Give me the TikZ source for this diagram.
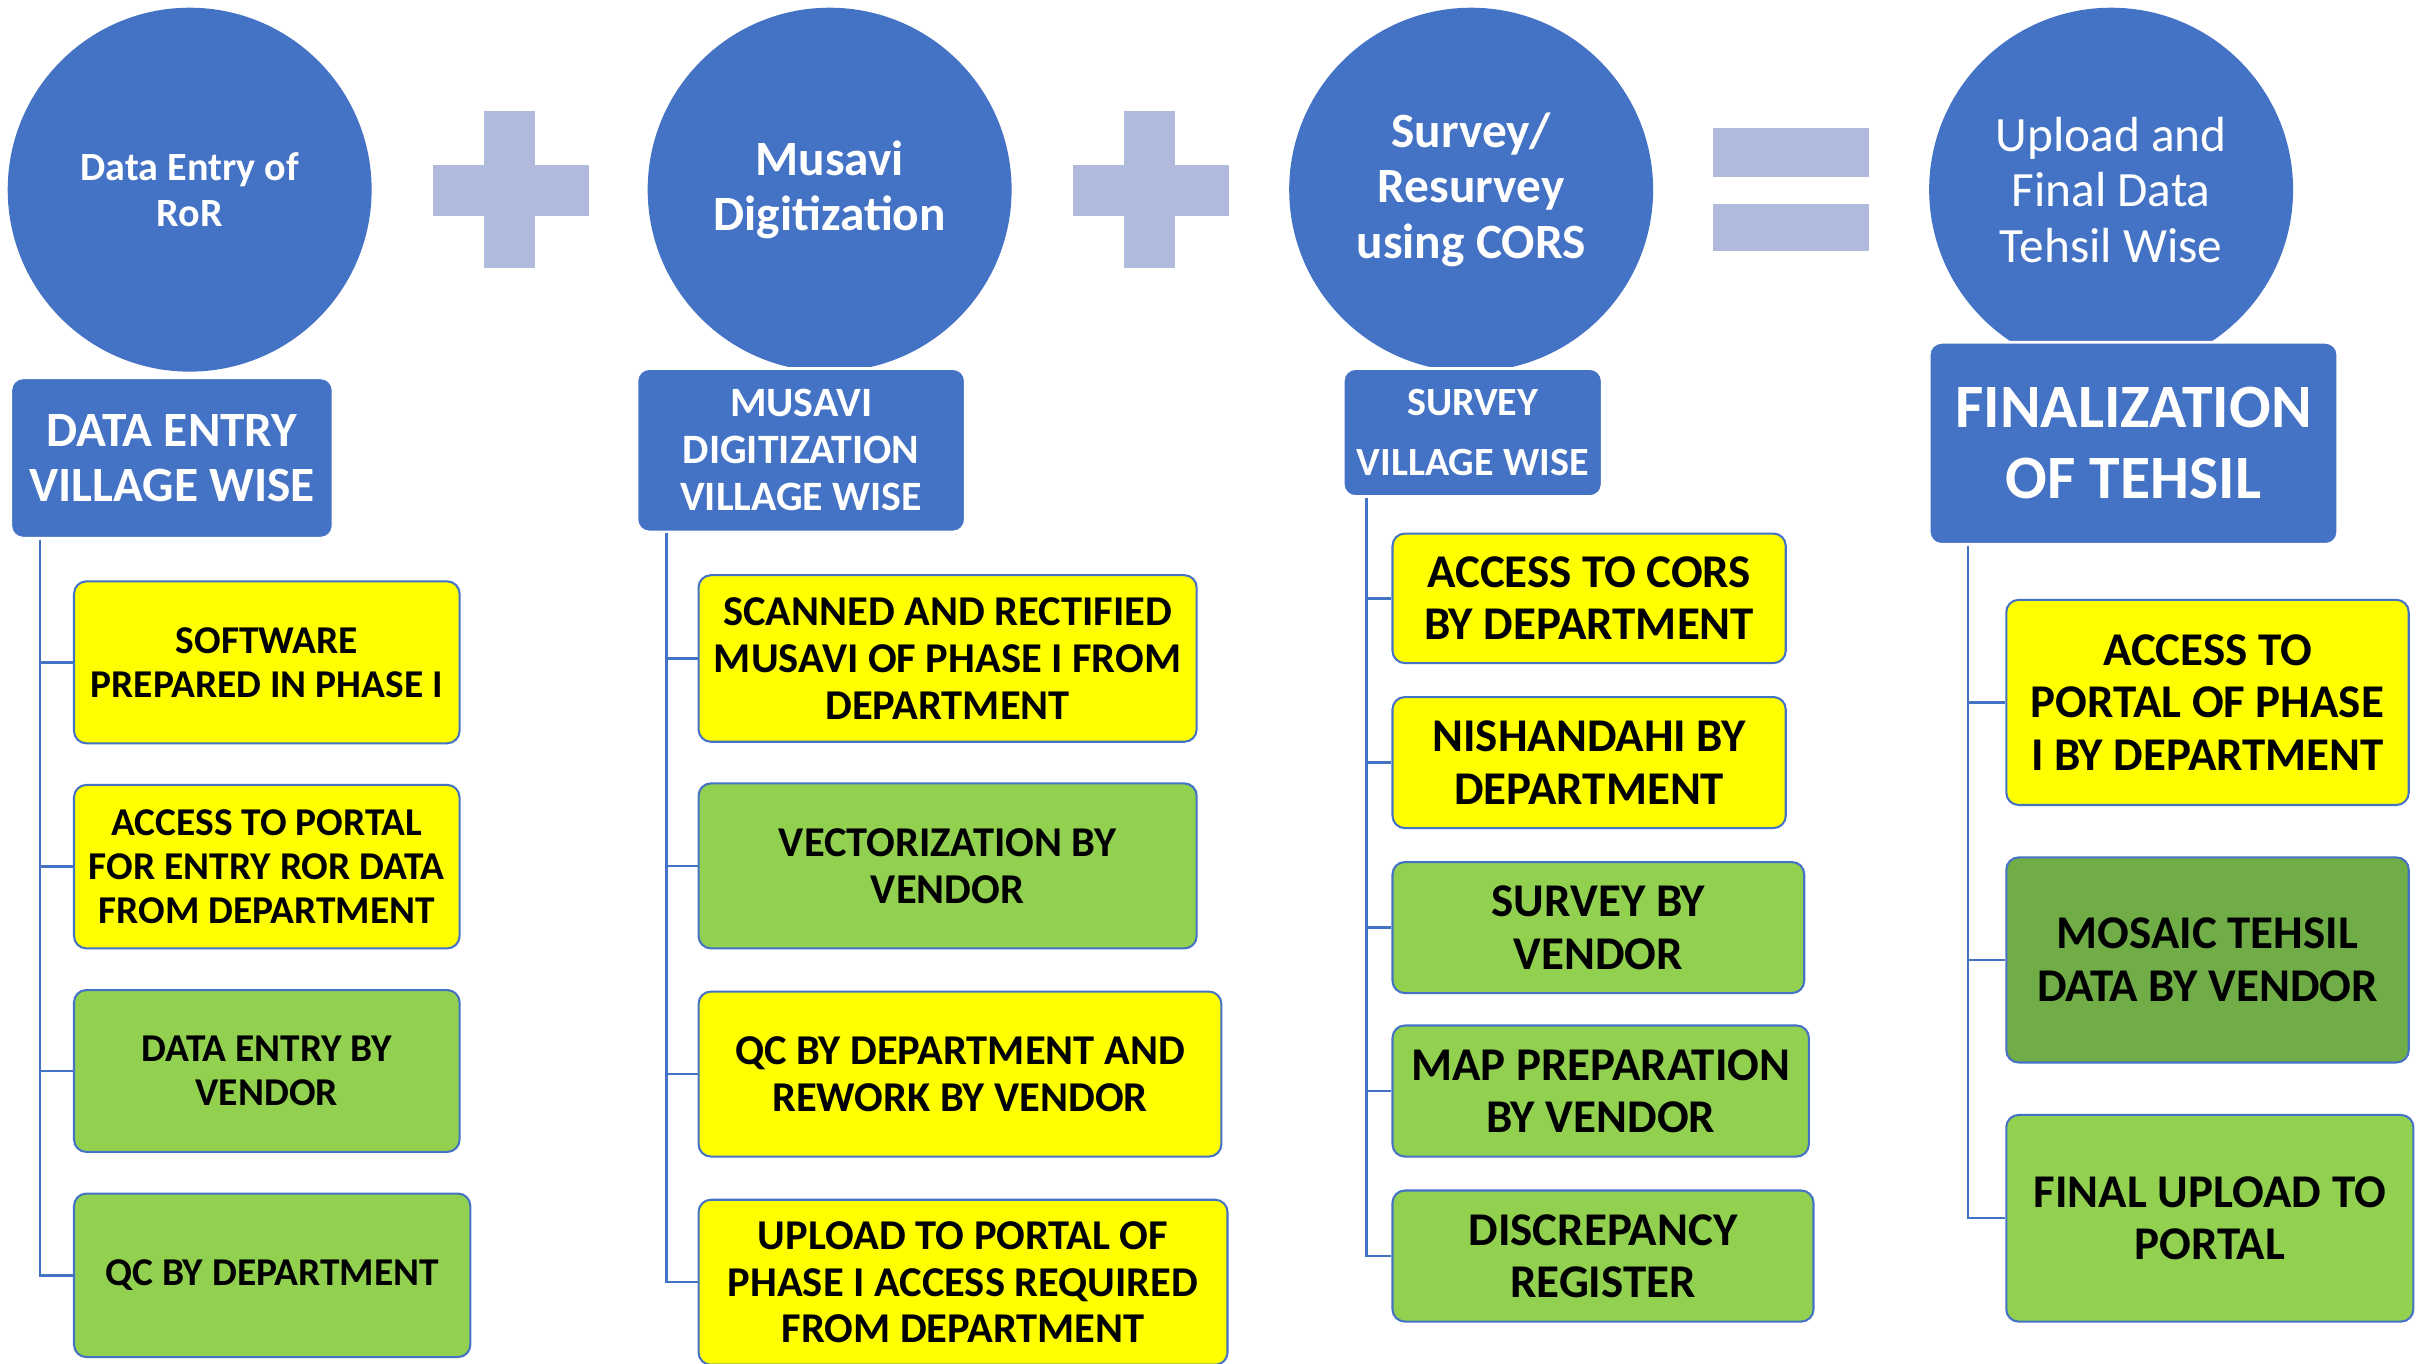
\documentclass[tikz,border=0pt]{standalone}
\usepackage{fontspec}
\setmainfont{Carlito}
\definecolor{mblue}{HTML}{4472C4}
\definecolor{myellow}{HTML}{FFFF00}
\definecolor{mgreen}{HTML}{92D050}
\definecolor{mdgreen}{HTML}{70AD47}
\definecolor{mlight}{HTML}{AFBADC}
\tikzset{
  circ/.style={circle, fill=mblue, draw=none, minimum size=106.2pt, inner sep=0pt, text=white, align=center},
  hbox/.style={fill=mblue, draw=white, line width=0.8pt, rounded corners=3.6pt, inner sep=0pt, text=white, align=center, font=\bfseries},
  ybox/.style={fill=myellow, draw=mblue, line width=0.6pt, rounded corners=3.6pt, inner sep=0pt, align=center, font=\bfseries},
  gbox/.style={fill=mgreen, draw=mblue, line width=0.6pt, rounded corners=3.6pt, inner sep=0pt, align=center, font=\bfseries},
  dgbox/.style={fill=mdgreen, draw=mblue, line width=0.6pt, rounded corners=3.6pt, inner sep=0pt, align=center, font=\bfseries},
  conn/.style={draw=mblue, line width=0.7pt},
  sym/.style={fill=mlight, draw=none},
  fa/.style={font=\bfseries\fontsize{11.5pt}{12.8pt}\selectfont},
  fb/.style={font=\bfseries\fontsize{12.4pt}{13.7pt}\selectfont},
  fc/.style={font=\bfseries\fontsize{13.7pt}{15.3pt}\selectfont},
}
% \bx{style}{name}{x1}{y1}{x2}{y2}{text}
\newcommand{\bx}[7]{\node[#1, minimum width={(#5-#3)*0.45pt}, minimum height={(#6-#4)*0.45pt}] (#2) at ({(#3+#5)/2},{(#4+#6)/2}) {#7};}
\begin{document}
\begin{tikzpicture}[x=0.45pt, y=-0.45pt]
\useasboundingbox (0,0) rectangle (1568,884);
\fill[white] (0,0) rectangle (1568,884);
% circles
\node[circ, font=\bfseries\fontsize{11.7pt}{13.5pt}\selectfont] (o1) at (123,123) {Data Entry of\\RoR};
\node[circ, font=\bfseries\fontsize{14.4pt}{16.2pt}\selectfont] (o2) at (538,123) {Musavi\\Digitization};
\node[circ, font=\bfseries\fontsize{14.4pt}{16.2pt}\selectfont] (o3) at (954,123) {Survey/\\Resurvey\\using CORS};
\node[circ, font=\fontsize{14.4pt}{16.2pt}\selectfont] (o4) at (1369,123) {Upload and\\Final Data\\Tehsil Wise};
% plus and equals signs
\fill[sym] (281,107) rectangle (382,140);
\fill[sym] (314,72) rectangle (347,174);
\fill[sym] (696,107) rectangle (797,140);
\fill[sym] (729,72) rectangle (762,174);
\fill[sym] (1111,83) rectangle (1212,115);
\fill[sym] (1111,132) rectangle (1212,163);
% header boxes
\bx{hbox, font=\bfseries\fontsize{14.4pt}{16.2pt}\selectfont}{h1}{7}{245}{216}{349}{DATA ENTRY\\VILLAGE WISE}
\bx{hbox, font=\bfseries\fontsize{12.2pt}{13.7pt}\selectfont}{h2}{413}{239}{626}{345}{MUSAVI\\DIGITIZATION\\VILLAGE WISE}
\bx{hbox, font=\bfseries\fontsize{11.7pt}{17.6pt}\selectfont}{h3}{871}{239}{1039}{322}{SURVEY\\VILLAGE WISE}
\bx{hbox, font=\bfseries\fontsize{18pt}{20.7pt}\selectfont}{h4}{1251}{222}{1516}{353}{FINALIZATION\\OF TEHSIL}
% column 1
\bx{ybox, fa}{a1}{48}{377}{298}{482}{SOFTWARE\\PREPARED IN PHASE I}
\bx{ybox, fa}{a2}{48}{509}{298}{615}{ACCESS TO PORTAL\\FOR ENTRY ROR DATA\\FROM DEPARTMENT}
\bx{gbox, fa}{a3}{48}{642}{298}{747}{DATA ENTRY BY\\VENDOR}
\bx{gbox, fa}{a4}{48}{774}{305}{880}{QC BY DEPARTMENT}
% column 2
\bx{ybox, fb}{b1}{453}{373}{776}{481}{SCANNED AND RECTIFIED\\MUSAVI OF PHASE I FROM\\DEPARTMENT}
\bx{gbox, fb}{b2}{453}{508}{776}{615}{VECTORIZATION BY\\VENDOR}
\bx{ybox, fb}{b3}{453}{643}{792}{750}{QC BY DEPARTMENT AND\\REWORK BY VENDOR}
\bx{ybox, fb}{b4}{453}{778}{796}{885}{UPLOAD TO PORTAL OF\\PHASE I ACCESS REQUIRED\\FROM DEPARTMENT}
% column 3
\bx{ybox, fc}{c1}{903}{346}{1158}{430}{ACCESS TO CORS\\BY DEPARTMENT}
\bx{ybox, fc}{c2}{903}{452}{1158}{537}{NISHANDAHI BY\\DEPARTMENT}
\bx{gbox, fc}{c3}{903}{559}{1170}{644}{SURVEY BY\\VENDOR}
\bx{gbox, fc}{c4}{903}{665}{1173}{750}{MAP PREPARATION\\BY VENDOR}
\bx{gbox, fc}{c5}{903}{772}{1176}{857}{DISCREPANCY\\REGISTER}
% column 4
\bx{ybox, fc}{d1}{1301}{389}{1562}{522}{ACCESS TO\\PORTAL OF PHASE\\I BY DEPARTMENT}
\bx{dgbox, fc}{d2}{1301}{556}{1562}{689}{MOSAIC TEHSIL\\DATA BY VENDOR}
\bx{gbox, fc}{d3}{1301}{723}{1565}{857}{FINAL UPLOAD TO\\PORTAL}
% connectors
\foreach \c in {a1,a2,a3,a4} \draw[conn] (h1.south west) ++(20,0) |- (\c.west);
\foreach \c in {b1,b2,b3,b4} \draw[conn] (h2.south west) ++(20,0) |- (\c.west);
\foreach \c in {c1,c2,c3,c4,c5} \draw[conn] (h3.south west) ++(16,0) |- (\c.west);
\foreach \c in {d1,d2,d3} \draw[conn] (h4.south west) ++(26,0) |- (\c.west);
\end{tikzpicture}
\end{document}
